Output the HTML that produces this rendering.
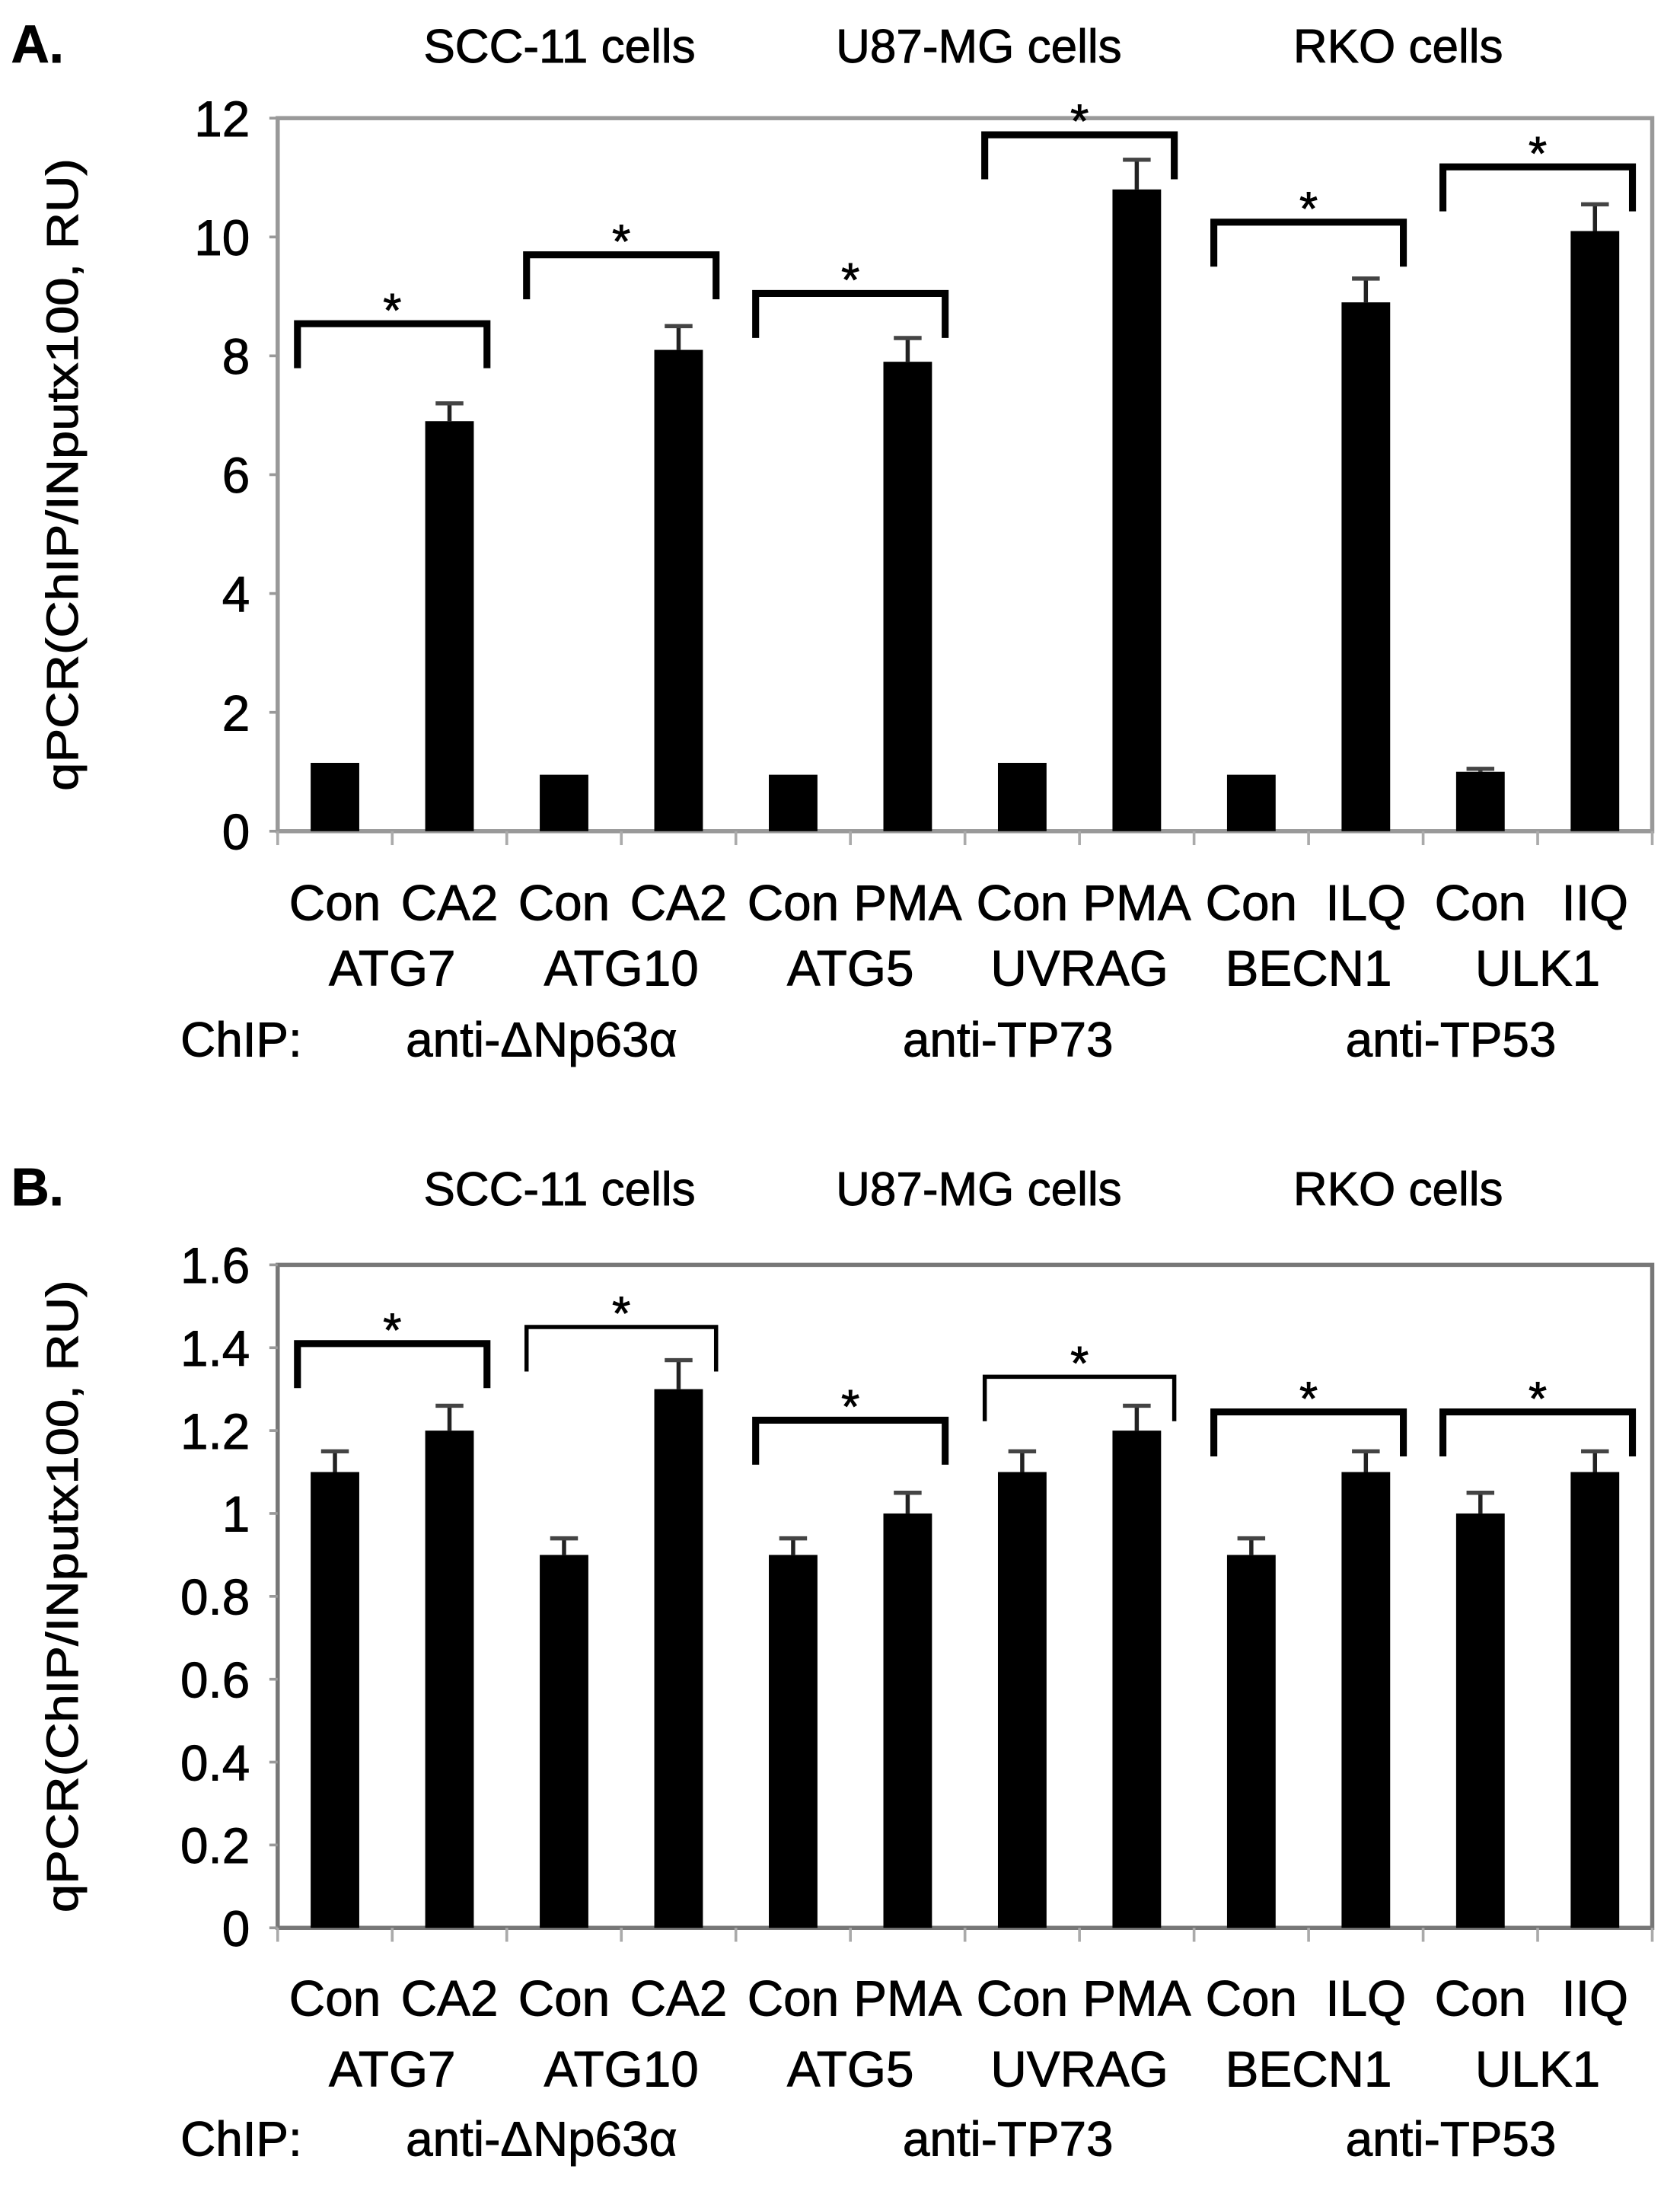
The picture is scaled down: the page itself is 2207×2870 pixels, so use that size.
<!DOCTYPE html>
<html><head><meta charset="utf-8"><style>
html,body{margin:0;padding:0;background:#fff}
svg{display:block}
text{font-family:"Liberation Sans","DejaVu Sans",sans-serif;fill:#000;stroke:#000;stroke-width:0.5px}
</style></head><body>
<svg id="fig" width="2207" height="2870" viewBox="0 0 1210 1572" preserveAspectRatio="none" xmlns="http://www.w3.org/2000/svg"></svg>
<script>
const barLabels=["Con","CA2","Con","CA2","Con","PMA","Con","PMA","Con","ILQ","Con","IIQ"];
const geneLabels=["ATG7","ATG10","ATG5","UVRAG","BECN1","ULK1"];
const chipLabels=["anti-ΔNp63α","anti-TP73","anti-TP53"];
const cellLabels=["SCC-11 cells","U87-MG cells","RKO cells"];
const valuesA=[1.15,6.9,0.95,8.1,0.95,7.9,1.15,10.8,0.95,8.9,1.0,10.1];
const errorsA=[0,0.3,0,0.4,0,0.4,0,0.5,0,0.4,0.05,0.45];
const bracketA=[8.54,9.7,9.05,11.72,10.25,11.18];
const ticksA=["0","2","4","6","8","10","12"];
const valuesB=[1.1,1.2,0.9,1.3,0.9,1.0,1.1,1.2,0.9,1.1,1.0,1.1];
const errorsB=[0.05,0.06,0.04,0.07,0.04,0.05,0.05,0.06,0.04,0.05,0.05,0.05];
const bracketB=[1.41,1.45,1.225,1.33,1.245,1.245];
const ticksB=["0","0.2","0.4","0.6","0.8","1","1.2","1.4","1.6"];

const NS="http://www.w3.org/2000/svg";
const svg=document.getElementById('fig');
function mk(tag,attrs,parent){const e=document.createElementNS(NS,tag);for(const k in attrs)e.setAttribute(k,attrs[k]);(parent||svg).appendChild(e);return e;}
function txt(s,attrs,parent){const e=mk('text',attrs,parent);e.textContent=s;return e;}

function panel(cfg){
  const g=mk('g',{});
  
  
  const L=200,R=1190,T=cfg.top,B=cfg.base,ymax=cfg.ymax;
  const n=cfg.values.length, cw=(R-L)/n, bw=35;
  const y=v=>B-(v/ymax)*(B-T);
  const x=i=>L+cw*(i+0.5);
  const lbl=txt(cfg.letter,{x:8,y:cfg.titleY,'font-size':38,'font-weight':'bold'},g);
  
  
  cellLabels.forEach((c,i)=>{
    const t=txt(c,{x:403+302*i,y:cfg.titleY,'font-size':34,'text-anchor':'middle'},g);
    
    
  });
  const fr=mk('rect',{x:L,y:T,width:R-L,height:B-T,fill:'none',stroke:cfg.frame,'stroke-width':3},g);
  
  
  cfg.ticks.forEach((s,i)=>{
    const v=parseFloat(s);
    mk('line',{x1:L-6,x2:L,y1:y(v),y2:y(v),stroke:'#999','stroke-width':2},g);
    const t=txt(s,{x:180,y:y(v)+13,'font-size':36,'text-anchor':'end'},g);
    
    
  });
  for(let i=0;i<=n;i++){mk('line',{x1:L+cw*i,x2:L+cw*i,y1:B,y2:B+10,stroke:'#aaa','stroke-width':2},g);}
  const yt=txt('qPCR(ChIP/INputx100, RU)',{x:0,y:0,'font-size':32,'text-anchor':'middle',transform:`translate(56,${(T+B)/2}) rotate(-90)`,textLength:455,lengthAdjust:'spacingAndGlyphs'},g);
  
  
  cfg.values.forEach((v,i)=>{
    const r=mk('rect',{x:x(i)-bw/2,y:y(v),width:bw,height:B-y(v),fill:'#000'},g);
    
    
    const e=cfg.errors[i];
    if(e>0){
      mk('line',{x1:x(i),x2:x(i),y1:y(v),y2:y(v+e),stroke:'#222','stroke-width':3},g);
      const c=mk('line',{x1:x(i)-10,x2:x(i)+10,y1:y(v+e),y2:y(v+e),stroke:'#444','stroke-width':3},g);
      
      
    }
    const t=txt(barLabels[i],{x:x(i),y:cfg.row1,'font-size':36,'text-anchor':'middle'},g);
    
    
  });
  cfg.brackets.forEach((bv,j)=>{
    const x1=x(2*j)-27,x2=x(2*j+1)+27,yy=y(bv);
    const p=mk('path',{d:`M${x1} ${yy+32} V${yy} H${x2} V${yy+32}`,fill:'none',stroke:'#000','stroke-width':cfg.bw[j]},g);
    
    
    const s=txt('*',{x:(x1+x2)/2,y:yy+2,'font-size':34,'text-anchor':'middle'},g);
    
    
    const gt=txt(geneLabels[j],{x:(x(2*j)+x(2*j+1))/2,y:cfg.row2,'font-size':36,'text-anchor':'middle'},g);
    
    
  });
  const ch=txt('ChIP:',{x:130,y:cfg.row3,'font-size':35},g);
  
  
  [390,726,1045].forEach((cx,k)=>{
    const t=txt(chipLabels[k],{x:cx,y:cfg.row3,'font-size':35,'text-anchor':'middle'},g);
    
    
  });
}
panel({name:'panel-a',letter:'A.',titleY:45,top:85,base:598,ymax:12,values:valuesA,errors:errorsA,brackets:bracketA,ticks:ticksA,frame:'#999',row1:662,row2:709,row3:760,bw:[5,5,5,5,5,5]});
panel({name:'panel-b',letter:'B.',titleY:867,top:910,base:1387,ymax:1.6,values:valuesB,errors:errorsB,brackets:bracketB,ticks:ticksB,frame:'#777',row1:1450,row2:1501,row3:1551,bw:[5,3,5,3,5,5]});
</script>
</body></html>
